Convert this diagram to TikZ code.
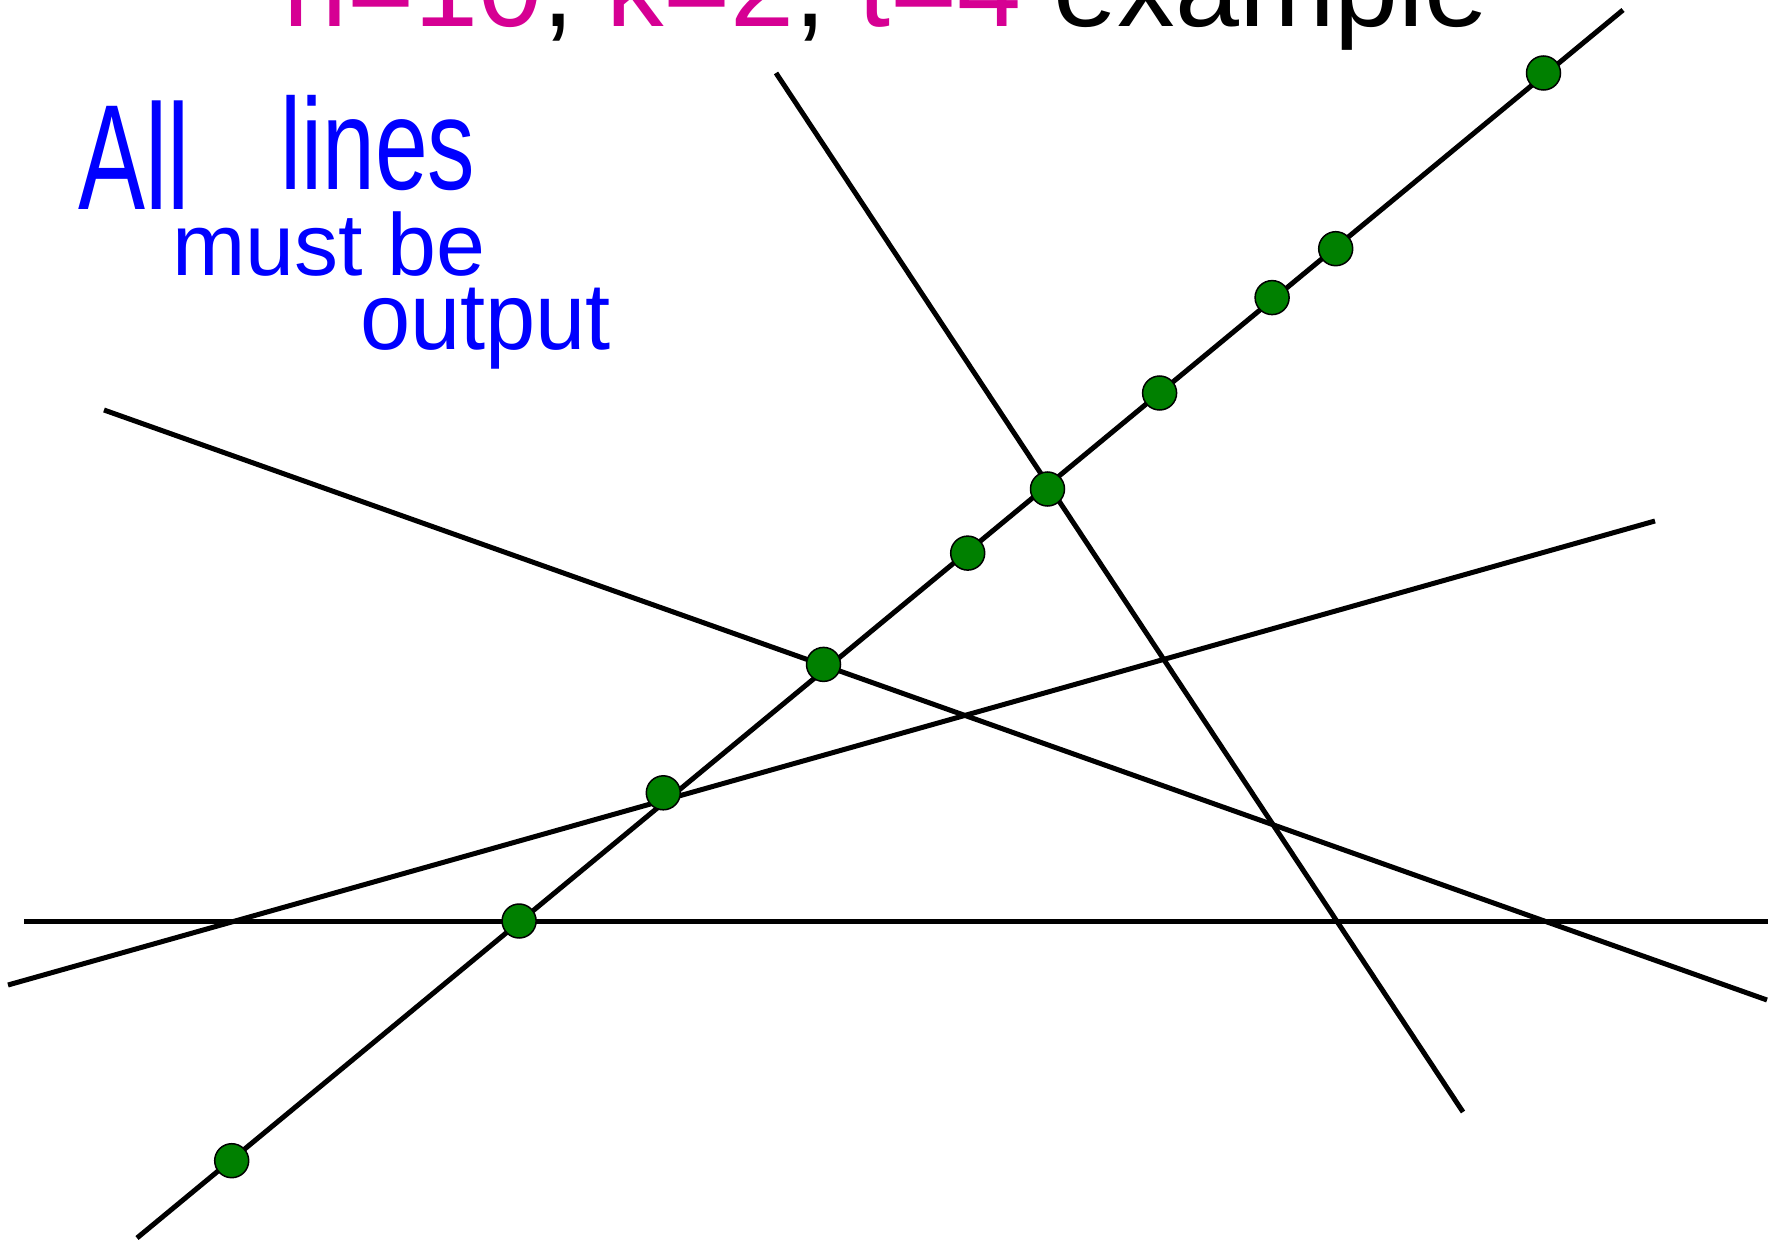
\documentclass[tikz,border=0pt]{standalone}
\usepackage{fontspec}
\setmainfont{Liberation Sans}
\definecolor{mag}{RGB}{214,0,147}
\definecolor{dotgreen}{RGB}{0,128,0}
\definecolor{hand}{RGB}{0,0,255}
\begin{document}
\begin{tikzpicture}[x=1pt,y=-1pt,
  ln/.style={line width=5pt,black},
  pt/.style={circle,fill=dotgreen,draw=black,line width=1.5pt,minimum size=34pt,inner sep=0pt},
  handtxt/.style={text=hand,inner sep=0pt,anchor=base west}]
\useasboundingbox (0,0) rectangle (1781,1241);
\clip (0,0) rectangle (1781,1241);
% title
\node[anchor=base west,inner sep=0pt,font=\fontsize{115}{115}\selectfont] (title) at (283,27)
  {{\color{mag}n=10}, {\color{mag}k=2}, {\color{mag}t=4} example};
% handwritten note
\node[handtxt,font=\fontsize{150}{150}\selectfont,xscale=0.67] (h1) at (78,210) {All};
\node[handtxt,font=\fontsize{130}{130}\selectfont,xscale=0.73] (h2) at (280,190) {lines};
\node[handtxt,font=\fontsize{88}{88}\selectfont] (h3) at (172,276) {must be};
\node[handtxt,font=\fontsize{95}{95}\selectfont,xscale=0.95] (h4) at (360,350) {output};
% line end points
\coordinate (d1) at (137,1238);  \coordinate (d2) at (1623,10);
\coordinate (s1) at (776,73);    \coordinate (s2) at (1463,1112);
\coordinate (a1) at (104,410);   \coordinate (a2) at (1767,1000);
\coordinate (b1) at (8,985);     \coordinate (b2) at (1655,521);
\coordinate (h1l) at (24,921);   \coordinate (h2l) at (1768,921);
\draw[ln] (d1) -- (d2);
\draw[ln] (s1) -- (s2);
\draw[ln] (a1) -- (a2);
\draw[ln] (b1) -- (b2);
\draw[ln] (h1l) -- (h2l);
% points
\node[pt] (p1) at (1543.5,73) {};
\node[pt] (p2) at (1335.7,248.7) {};
\node[pt] (p3) at (1272.1,297.6) {};
\node[pt] (p4) at (1159.6,393.0) {};
\node[pt] (p5) at (1047.5,489) {};
\node[pt] (p6) at (967.7,553.1) {};
\node[pt] (p7) at (823.5,664.4) {};
\node[pt] (p8) at (663.3,792.8) {};
\node[pt] (p9) at (519.1,921) {};
\node[pt] (p10) at (231.7,1160.7) {};
\end{tikzpicture}
\end{document}
